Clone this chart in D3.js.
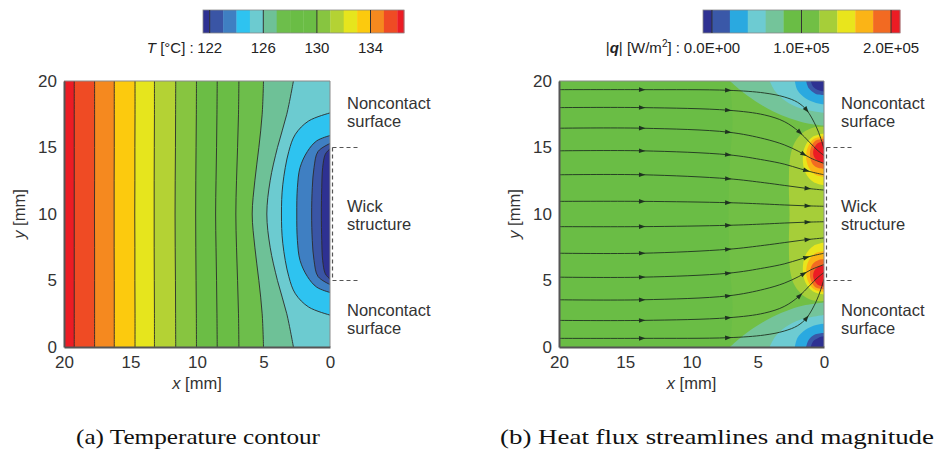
<!DOCTYPE html>
<html>
  <head>
    <meta charset="utf-8">
    <title>Temperature contour and heat flux</title>
    <script src="https://cdn.jsdelivr.net/npm/d3@7"></script>
    <style>
      body { margin: 0; background: #fff; }
      svg text { font-family: "Liberation Sans", Arial, Helvetica, sans-serif; }
      .axis .domain { stroke: #555; stroke-width: 2; }
      .axis text { font-size: 17px; fill: #333; font-family: "Liberation Sans", Arial, sans-serif; }
      .note { font-size: 16.5px; fill: #333; }
      svg text.caption { font-family: "Liberation Serif", "Times New Roman", serif; font-size: 21px; fill: #111; }
      .barLabel { font-size: 15px; fill: #222; }
    </style>
  </head>
  <body>
    <svg id="chart" width="937" height="453"></svg>
    <script>
      // ---- temperature (a) ----
      tempEdges = [121.5, 122, 123, 124, 125, 126, 127, 128, 129, 130, 131, 132, 133, 134, 135, 136, 136.5];
      tempColors = ["#2e3192", "#3a55a5", "#3f7fc2", "#2ec3f0", "#6ccbd0", "#6ec197", "#6dbe4b", "#6abd45",
                    "#6bbd45", "#87c540", "#b4d234", "#e6e51d", "#fcca0e", "#f5891f", "#ef4b24", "#ec1c24"];
      tempTicks = [122, 126, 130, 134];
      // near-vertical isotherms: x [mm] read at each contourY
      contourY = [0, 2.5, 5, 7.5, 10, 12.5, 15, 17.5, 20];
      openLevels = [126, 127, 128, 129, 130, 131, 132, 133, 134, 135, 136];
      openX = [
        [2.75, 3.25, 3.95, 4.5, 4.75, 4.5, 3.95, 3.25, 2.75],
        [5.0, 5.1, 5.35, 5.65, 5.85, 5.65, 5.35, 5.1, 5.0],
        [6.85, 6.88, 6.95, 7.03, 7.08, 7.03, 6.95, 6.88, 6.85],
        [8.48, 8.5, 8.53, 8.57, 8.6, 8.57, 8.53, 8.5, 8.48],
        [10.04, 10.05, 10.07, 10.09, 10.1, 10.09, 10.07, 10.05, 10.04],
        [11.6, 11.61, 11.62, 11.64, 11.65, 11.64, 11.62, 11.61, 11.6],
        [13.2, 13.2, 13.21, 13.22, 13.22, 13.22, 13.21, 13.2, 13.2],
        [14.66, 14.66, 14.67, 14.67, 14.68, 14.67, 14.67, 14.66, 14.66],
        [16.22, 16.22, 16.22, 16.23, 16.23, 16.23, 16.22, 16.22, 16.22],
        [17.7, 17.7, 17.7, 17.7, 17.71, 17.7, 17.7, 17.7, 17.7],
        [19.23, 19.23, 19.23, 19.23, 19.23, 19.23, 19.23, 19.23, 19.23]
      ];
      // closed isotherms around the wick, [x, y] in mm
      closedLevels = [125, 124, 123, 122];
      closedPts = [
        [[0, 2.4], [1.6, 3.0], [2.6, 4.0], [3.1, 5.3], [3.55, 7.8], [3.65, 10], [3.55, 12.2], [3.1, 14.7], [2.6, 16.0], [1.6, 17.0], [0, 17.6]],
        [[0, 4.1], [1.0, 4.5], [1.7, 5.3], [2.25, 6.5], [2.45, 8], [2.5, 10], [2.45, 12], [2.25, 13.5], [1.7, 14.7], [1.0, 15.5], [0, 15.9]],
        [[0, 4.7], [0.9, 5.3], [1.2, 6.5], [1.33, 8], [1.38, 10], [1.33, 12], [1.2, 13.5], [0.9, 14.7], [0, 15.3]],
        [[0, 5.1], [0.35, 5.5], [0.55, 6.5], [0.62, 8], [0.65, 10], [0.62, 12], [0.55, 13.5], [0.35, 14.5], [0, 14.9]]
      ];

      // ---- heat flux (b) ----
      fluxEdges = [-1e4, 0, 2e4, 4e4, 6e4, 8e4, 1e5, 1.2e5, 1.4e5, 1.6e5, 1.8e5, 2e5, 2.1e5];
      fluxColors = ["#2e3192", "#3a58a8", "#2aa9e0", "#6dcbd2", "#74c49a", "#6abd45",
                    "#71bf45", "#a6ce39", "#e9e51c", "#fbb416", "#f26a22", "#ec1c24"];
      fluxTicks = [0, 1e5, 2e5];
      fluxTickText = ["0.0E+00", "1.0E+05", "2.0E+05"];
      fluxBase = 9e4;
      midFlux = 1.1e5;
      midPts = [[7.1, 20], [6.9, 17], [7.1, 14], [7.2, 10], [7.1, 6], [6.9, 3], [7.1, 0]];
      wickFlux = 1.3e5;
      wickPts = [[0, 16.55], [0.8, 16.5], [1.6, 16.1], [2.2, 15.4], [2.55, 14.3], [2.65, 12], [2.6, 10],
                 [2.65, 8], [2.55, 5.7], [2.2, 4.6], [1.6, 3.9], [0.8, 3.5], [0, 3.45]];
      cornerFlux = [7e4, 5e4, 3e4, 1e4, -5e3];
      topCornerPts = [
        [[7.1, 20], [6.3, 19.3], [5.2, 18.5], [3.9, 17.75], [2.6, 17.2], [1.4, 16.85], [0, 16.65]],
        [[4.1, 20], [3.7, 19.25], [2.9, 18.5], [1.8, 17.95], [0, 17.6]],
        [[2.2, 20], [2.0, 19.3], [1.4, 18.7], [0.6, 18.35], [0, 18.25]],
        [[1.35, 20], [1.15, 19.45], [0.65, 19.05], [0, 18.95]],
        [[1.0, 20], [0.8, 19.55], [0.4, 19.3], [0, 19.2]]
      ];
      bottomCornerPts = [
        [[7.1, 0], [6.3, 0.7], [5.2, 1.5], [3.9, 2.25], [2.6, 2.8], [1.4, 3.15], [0, 3.35]],
        [[4.1, 0], [3.7, 0.75], [2.9, 1.5], [1.8, 2.05], [0, 2.4]],
        [[2.2, 0], [2.0, 0.7], [1.4, 1.3], [0.6, 1.65], [0, 1.75]],
        [[1.35, 0], [1.15, 0.55], [0.65, 0.95], [0, 1.05]],
        [[1.0, 0], [0.8, 0.45], [0.4, 0.7], [0, 0.8]]
      ];
      hotFlux = [1.5e5, 1.7e5, 1.9e5, 2.05e5];
      topHotPts = [
        [[0, 16.05], [0.85, 15.8], [1.4, 15.15], [1.6, 14.2], [1.4, 13.1], [0.8, 12.4], [0, 12.15]],
        [[0, 15.85], [0.75, 15.65], [1.2, 15.05], [1.35, 14.3], [1.15, 13.5], [0.65, 12.95], [0, 12.8]],
        [[0, 15.65], [0.65, 15.5], [1.0, 14.95], [1.05, 14.3], [0.85, 13.75], [0.4, 13.45], [0, 13.4]],
        [[0, 15.45], [0.5, 15.3], [0.8, 14.8], [0.75, 14.3], [0.4, 13.95], [0, 13.85]]
      ];
      bottomHotPts = [
        [[0, 3.95], [0.85, 4.2], [1.4, 4.85], [1.6, 5.8], [1.4, 6.9], [0.8, 7.6], [0, 7.85]],
        [[0, 4.15], [0.75, 4.35], [1.2, 4.95], [1.35, 5.7], [1.15, 6.5], [0.65, 7.05], [0, 7.2]],
        [[0, 4.35], [0.65, 4.5], [1.0, 5.05], [1.05, 5.7], [0.85, 6.25], [0.4, 6.55], [0, 6.6]],
        [[0, 4.55], [0.5, 4.7], [0.8, 5.2], [0.75, 5.7], [0.4, 6.05], [0, 6.15]]
      ];
      // streamlines, [x, y] in mm, and x of the last arrow on each
      streamlines = [
        [[20, 19.35], [13.7, 19.35], [7.2, 19.3], [4.5, 19.1], [3, 18.8], [2, 18.4], [1.3, 17.8], [0.6, 16.6], [0.25, 15.7], [0, 14.9]],
        [[20, 18.0], [13.7, 18.0], [7.2, 17.8], [4.5, 17.45], [3, 16.95], [1.9, 16.2], [1.1, 15.4], [0.5, 14.8], [0, 14.4]],
        [[20, 16.45], [13.7, 16.45], [7.2, 16.15], [4.5, 15.65], [3, 15.2], [1.9, 14.7], [1.0, 14.2], [0, 13.8]],
        [[20, 14.75], [13.7, 14.75], [7.2, 14.45], [4.5, 14.05], [3, 13.75], [1.8, 13.4], [0.9, 13.15], [0, 12.95]],
        [[20, 12.95], [13.7, 12.95], [7.2, 12.65], [4.5, 12.35], [3, 12.15], [1.5, 11.95], [0, 11.8]],
        [[20, 10.95], [13.7, 10.95], [7.2, 10.85], [4.5, 10.75], [3, 10.68], [1.5, 10.62], [0, 10.58]],
        [[20, 9.05], [13.7, 9.05], [7.2, 9.15], [4.5, 9.25], [3, 9.32], [1.5, 9.38], [0, 9.42]],
        [[20, 7.05], [13.7, 7.05], [7.2, 7.35], [4.5, 7.65], [3, 7.85], [1.5, 8.05], [0, 8.2]],
        [[20, 5.25], [13.7, 5.25], [7.2, 5.55], [4.5, 5.95], [3, 6.25], [1.8, 6.6], [0.9, 6.85], [0, 7.05]],
        [[20, 3.55], [13.7, 3.55], [7.2, 3.85], [4.5, 4.35], [3, 4.8], [1.9, 5.3], [1.0, 5.8], [0, 6.2]],
        [[20, 2.0], [13.7, 2.0], [7.2, 2.2], [4.5, 2.55], [3, 3.05], [1.9, 3.8], [1.1, 4.6], [0.5, 5.2], [0, 5.6]],
        [[20, 0.65], [13.7, 0.65], [7.2, 0.7], [4.5, 0.9], [3, 1.2], [2, 1.6], [1.3, 2.2], [0.6, 3.4], [0.25, 4.3], [0, 5.1]]
      ];
      arrowX = [13.7, 7.2];
      endArrowX = [1.3, 1.8, 1.5, 1.3, 1.2, 1.2, 1.2, 1.2, 1.3, 1.5, 1.8, 1.3];
      axisTicks = [0, 5, 10, 15, 20];

      // ---- layout ----
      svg = d3.select("#chart");
      plotTop = 81; plotBottom = 347;
      yScale = d3.scaleLinear().domain([0, 20]).range([plotBottom, plotTop]);
      xA = d3.scaleLinear().domain([20, 0]).range([64, 330]);
      xB = d3.scaleLinear().domain([20, 0]).range([559, 824]);
      tempColor = d3.scaleThreshold().domain(tempEdges.slice(1, -1)).range(tempColors);
      fluxColor = d3.scaleThreshold().domain(fluxEdges.slice(1, -1)).range(fluxColors);

      function curveLine(xs) {
        return d3.line().x(function(d) { return xs(d[0]); }).y(function(d) { return yScale(d[1]); })
          .curve(d3.curveCatmullRom.alpha(0.5));
      }
      // region: curve through pts, then straight along plot edges via corners
      function regionPath(xs, pts, corners) {
        var p = curveLine(xs)(pts);
        corners.forEach(function(c) { p += "L" + xs(c[0]) + "," + yScale(c[1]); });
        return p + "Z";
      }
      defs = svg.append("defs");
      [["clipA", xA], ["clipB", xB]].forEach(function(c) {
        defs.append("clipPath").attr("id", c[0]).append("rect")
          .attr("x", c[1](20)).attr("y", plotTop)
          .attr("width", c[1](0) - c[1](20)).attr("height", plotBottom - plotTop);
      });

      // ---- panel (a) ----
      gA = svg.append("g").attr("clip-path", "url(#clipA)");
      gA.append("rect").attr("x", xA(20)).attr("y", plotTop)
        .attr("width", xA(0) - xA(20)).attr("height", plotBottom - plotTop)
        .attr("fill", tempColor(125.5));
      openArea = d3.area().curve(d3.curveCatmullRom.alpha(0.5))
        .y(function(d) { return yScale(d[1]); })
        .x0(xA(20)).x1(function(d) { return xA(d[0]); });
      openLevels.forEach(function(lv, i) {
        var pts = openX[i].map(function(v, j) { return [v, contourY[j]]; });
        gA.append("path").attr("d", openArea(pts)).attr("fill", tempColor(lv + 0.5));
      });
      closedLevels.forEach(function(lv, i) {
        gA.append("path").attr("d", regionPath(xA, closedPts[i], [])).attr("fill", tempColor(lv - 0.5));
      });
      openLevels.forEach(function(lv, i) {
        var pts = openX[i].map(function(v, j) { return [v, contourY[j]]; });
        gA.append("path").attr("d", curveLine(xA)(pts))
          .attr("fill", "none").attr("stroke", "#2b2b2b").attr("stroke-width", 0.9);
      });
      closedLevels.forEach(function(lv, i) {
        gA.append("path").attr("d", curveLine(xA)(closedPts[i]))
          .attr("fill", "none").attr("stroke", "#2b2b2b").attr("stroke-width", 0.9);
      });

      // ---- panel (b) ----
      gB = svg.append("g").attr("clip-path", "url(#clipB)");
      gB.append("rect").attr("x", xB(20)).attr("y", plotTop)
        .attr("width", xB(0) - xB(20)).attr("height", plotBottom - plotTop)
        .attr("fill", fluxColor(fluxBase));
      gB.append("path").attr("d", regionPath(xB, midPts, [[0, 0], [0, 20]])).attr("fill", fluxColor(midFlux));
      gB.append("path").attr("d", regionPath(xB, wickPts, [])).attr("fill", fluxColor(wickFlux));
      cornerFlux.forEach(function(v, i) {
        gB.append("path").attr("d", regionPath(xB, topCornerPts[i], [[0, 20]])).attr("fill", fluxColor(v));
        gB.append("path").attr("d", regionPath(xB, bottomCornerPts[i], [[0, 0]])).attr("fill", fluxColor(v));
      });
      hotFlux.forEach(function(v, i) {
        gB.append("path").attr("d", regionPath(xB, topHotPts[i], [])).attr("fill", fluxColor(v));
        gB.append("path").attr("d", regionPath(xB, bottomHotPts[i], [])).attr("fill", fluxColor(v));
      });
      streamlines.forEach(function(pts, i) {
        var node = gB.append("path").attr("d", curveLine(xB)(pts))
          .attr("fill", "none").attr("stroke", "#1f3320").attr("stroke-width", 0.9).node();
        var total = node.getTotalLength();
        arrowX.concat([endArrowX[i]]).forEach(function(xv) {
          var px = xB(xv), lo = 0, hi = total;
          for (var k = 0; k < 30; k++) {
            var mid = (lo + hi) / 2;
            if (node.getPointAtLength(mid).x < px) lo = mid; else hi = mid;
          }
          var p = node.getPointAtLength(lo), q = node.getPointAtLength(Math.min(total, lo + 1.5));
          var ang = Math.atan2(q.y - p.y, q.x - p.x) * 180 / Math.PI;
          gB.append("path").attr("d", "M3,0L-3.5,-2.3L-3.5,2.3Z").attr("fill", "#1f3320")
            .attr("transform", "translate(" + p.x + "," + p.y + ") rotate(" + ang + ")");
        });
      });

      // ---- frames and axes ----
      [xA, xB].forEach(function(xs) {
        svg.append("path")
          .attr("d", "M" + xs(20) + "," + plotTop + "H" + xs(0) + "V" + plotBottom)
          .attr("fill", "none").attr("stroke", "#8a8a8a").attr("stroke-width", 1);
        svg.append("g").attr("class", "axis")
          .attr("transform", "translate(0," + plotBottom + ")")
          .call(d3.axisBottom(xs).tickValues(axisTicks).tickSize(0).tickPadding(9));
        svg.append("g").attr("class", "axis")
          .attr("transform", "translate(" + xs(20) + ",0)")
          .call(d3.axisLeft(yScale).tickValues(axisTicks).tickSize(0).tickPadding(7));
        var xl = svg.append("text").attr("class", "note").attr("text-anchor", "middle")
          .attr("x", (xs(20) + xs(0)) / 2).attr("y", 389);
        xl.append("tspan").attr("font-style", "italic").text("x");
        xl.append("tspan").text(" [mm]");
        var yl = svg.append("text").attr("class", "note").attr("text-anchor", "middle")
          .attr("transform", "translate(" + (xs(20) - 39) + "," + yScale(10) + ") rotate(-90)");
        yl.append("tspan").attr("font-style", "italic").text("y");
        yl.append("tspan").text(" [mm]");
        // wick marker
        var xr = xs(0) + 2.5;
        svg.append("path")
          .attr("d", "M" + xr + "," + yScale(15) + "H" + (xr + 26) + "M" + xr + "," + yScale(15) +
                "V" + yScale(5) + "H" + (xr + 26))
          .attr("fill", "none").attr("stroke", "#555").attr("stroke-width", 1.2)
          .attr("stroke-dasharray", "4,3");
        var tx = xs(0) + 17;
        [["Noncontact", 109], ["surface", 127], ["Wick", 212], ["structure", 230],
         ["Noncontact", 316], ["surface", 334]].forEach(function(t) {
          svg.append("text").attr("class", "note").attr("x", tx).attr("y", t[1]).text(t[0]);
        });
      });

      // ---- colour bars ----
      barA = d3.scaleLinear().domain([tempEdges[0], tempEdges[tempEdges.length - 1]]).range([203, 404]);
      barB = d3.scaleLinear().domain([fluxEdges[0], fluxEdges[fluxEdges.length - 1]]).range([703, 900]);
      function colourBar(scale, edges, colors, ticks, labels, title) {
        var g = svg.append("g");
        colors.forEach(function(c, i) {
          g.append("rect").attr("x", scale(edges[i])).attr("y", 10)
            .attr("width", scale(edges[i + 1]) - scale(edges[i]) + 0.3).attr("height", 23).attr("fill", c);
        });
        g.append("rect").attr("x", scale.range()[0]).attr("y", 10)
          .attr("width", scale.range()[1] - scale.range()[0]).attr("height", 23)
          .attr("fill", "none").attr("stroke", "#888").attr("stroke-width", 0.8);
        ticks.forEach(function(t, i) {
          g.append("line").attr("x1", scale(t)).attr("x2", scale(t)).attr("y1", 10).attr("y2", 33)
            .attr("stroke", "#333").attr("stroke-width", 1);
          g.append("text").attr("class", "barLabel").attr("text-anchor", "middle")
            .attr("x", scale(t)).attr("y", 53).text(labels[i]);
        });
        var tt = g.append("text").attr("class", "barLabel").attr("text-anchor", "end")
          .attr("x", scale(ticks[0]) - 16 - (labels[0].length > 3 ? 16 : 0)).attr("y", 53);
        title(tt);
      }
      colourBar(barA, tempEdges, tempColors, tempTicks, tempTicks.map(String), function(t) {
        t.append("tspan").attr("font-style", "italic").text("T");
        t.append("tspan").text(" [°C] :");
      });
      colourBar(barB, fluxEdges, fluxColors, fluxTicks, fluxTickText, function(t) {
        t.append("tspan").text("|");
        t.append("tspan").attr("font-style", "italic").attr("font-weight", "bold").text("q");
        t.append("tspan").text("| [W/m");
        t.append("tspan").attr("font-size", "10px").attr("dy", -6).text("2");
        t.append("tspan").attr("dy", 6).text("] :");
      });

      // ---- captions ----
      svg.append("text").attr("class", "caption").attr("text-anchor", "middle")
        .attr("x", 198).attr("y", 444).attr("textLength", 244).attr("lengthAdjust", "spacingAndGlyphs")
        .text("(a) Temperature contour");
      svg.append("text").attr("class", "caption").attr("text-anchor", "middle")
        .attr("x", 717).attr("y", 444).attr("textLength", 434).attr("lengthAdjust", "spacingAndGlyphs")
        .text("(b) Heat flux streamlines and magnitude");
    </script>
  </body>
</html>
